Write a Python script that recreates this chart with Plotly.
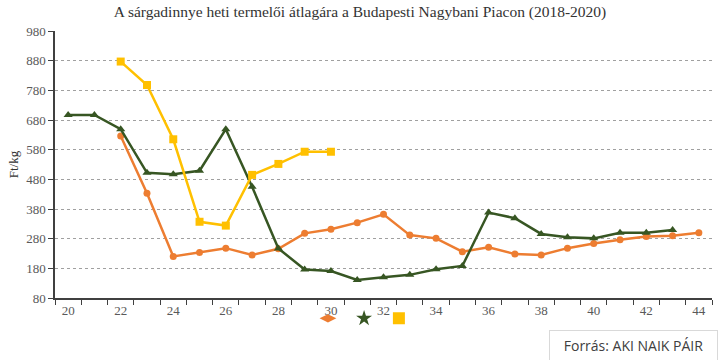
import plotly.graph_objects as go

title = "A sárgadinnye heti termelői átlagára a Budapesti Nagybani Piacon (2018-2020)"
y_title = "Ft/kg"
source = "Forrás: AKI NAIK PÁIR"

weeks_orange = list(range(22, 45))
orange = [626, 433, 220, 233, 248, 225, 246, 298, 312, 334, 362, 292, 281, 236, 251,
          228, 225, 248, 264, 276, 287, 290, 300]

weeks_green = list(range(20, 44))
green = [697, 697, 649, 502, 497, 509, 649, 455, 247, 176, 171, 141, 150, 158, 177,
         188, 368, 349, 296, 285, 281, 300, 300, 309]

weeks_yellow = list(range(22, 31))
yellow = [877, 798, 615, 337, 324, 495, 532, 573, 573]

x_ticks = list(range(20, 45, 2))
y_ticks = list(range(80, 981, 100))

C_OR = "#ED7D31"
C_GR = "#375623"
C_YE = "#FFC000"

fig = go.Figure()
fig.add_trace(go.Scatter(x=weeks_orange, y=orange, mode="lines+markers",
                         line=dict(color=C_OR, width=2.5),
                         marker=dict(symbol="circle", size=7, color=C_OR),
                         showlegend=False))
fig.add_trace(go.Scatter(x=weeks_green, y=green, mode="lines+markers",
                         line=dict(color=C_GR, width=2.5),
                         marker=dict(symbol="triangle-up", size=8, color=C_GR),
                         showlegend=False))
fig.add_trace(go.Scatter(x=weeks_yellow, y=yellow, mode="lines+markers",
                         line=dict(color=C_YE, width=2.5),
                         marker=dict(symbol="square", size=8, color=C_YE),
                         showlegend=False))
# legend keys (markers only, no text), one legend each
legend_keys = [(C_OR, "diamond-wide", "legend"), (C_GR, "star", "legend2"),
               (C_YE, "square", "legend3")]
for col, sym, lg in legend_keys:
    fig.add_trace(go.Scatter(x=[None], y=[None], mode="markers",
                             marker=dict(symbol=sym, size=12, color=col),
                             name="", showlegend=True, legend=lg))

leg_common = dict(orientation="h", xanchor="left", y=-0.022, yanchor="top",
                  itemwidth=30, font=dict(size=10), bgcolor="rgba(0,0,0,0)")

fig.update_layout(
    width=720, height=360,
    margin=dict(l=55, r=8, t=31, b=62, autoexpand=False),
    paper_bgcolor="white", plot_bgcolor="white",
    title=dict(text=title, x=0.5, xanchor="center", y=0.984, yanchor="top",
               font=dict(family="Liberation Serif", size=15.5, color="#333333")),
    font=dict(family="Liberation Serif", size=12, color="#595959"),
    legend=dict(x=0.385, **leg_common),
    legend2=dict(x=0.44, **leg_common),
    legend3=dict(x=0.493, **leg_common),
    annotations=[dict(text=source, xref="paper", yref="paper", x=1.009, y=-0.12,
                      xanchor="right", yanchor="top", showarrow=False,
                      width=159, height=21, align="center",
                      font=dict(family="Open Sans", size=14, color="#404040"),
                      bordercolor="#d9d9d9", borderwidth=1, borderpad=4,
                      bgcolor="white")],
)
fig.update_xaxes(range=[19.5, 44.5], tickvals=x_ticks, ticks="", showgrid=False,
                 showline=True, linecolor="#404040", linewidth=1.5, automargin=False,
                 tickfont=dict(family="Liberation Serif", size=13, color="#595959"),
                 minor=dict(tick0=19.5, dtick=1, ticks="outside", ticklen=5,
                            tickcolor="#404040", showgrid=False),
                 zeroline=False)
fig.update_yaxes(range=[80, 980], tickvals=y_ticks, ticks="outside", ticklen=5,
                 tickcolor="#404040", showline=True, linecolor="#404040", linewidth=1.5,
                 showgrid=True, gridcolor="#a0a0a0", griddash="dot", gridwidth=1,
                 automargin=False,
                 title=dict(text=y_title, standoff=5,
                            font=dict(family="Liberation Serif", size=13, color="#333333")),
                 tickfont=dict(family="Liberation Serif", size=13, color="#595959"),
                 zeroline=False)

fig.write_html("out.html", config={"displayModeBar": False},
               post_script="document.body.style.margin='0';")
